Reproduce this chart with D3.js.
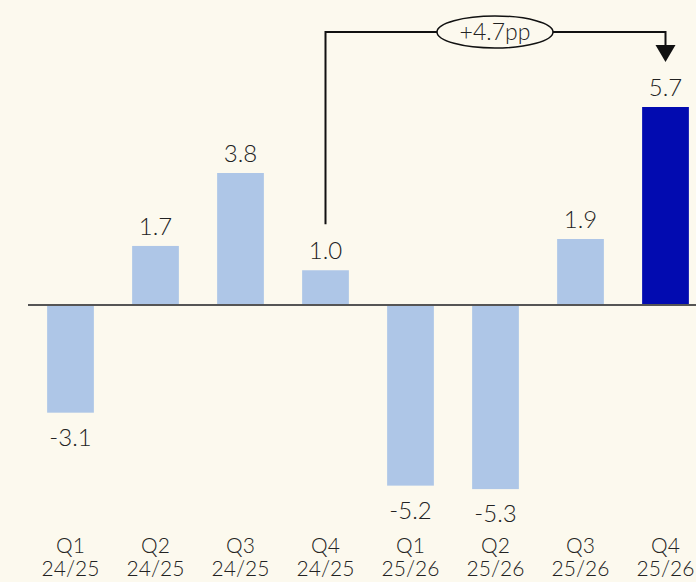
<!DOCTYPE html>
<html>
<head>
<meta charset="utf-8">
<script src="https://cdn.jsdelivr.net/npm/d3@7"></script>
<style>
  body { margin: 0; background: #fcf9ee; }
  svg { display: block; font-family: "Lato", "DejaVu Sans", sans-serif; font-weight: 300; }
</style>
</head>
<body>
<script>
// chart data
var quarters = ["Q1", "Q2", "Q3", "Q4", "Q1", "Q2", "Q3", "Q4"];
var years = ["24/25", "24/25", "24/25", "24/25", "25/26", "25/26", "25/26", "25/26"];
var values = [-3.1, 1.7, 3.8, 1.0, -5.2, -5.3, 1.9, 5.7];
var changeLabel = "+4.7pp";

var width = 696, height = 582;

var svg = d3.select("body").append("svg").attr("width", width).attr("height", height);
svg.append("rect").attr("width", width).attr("height", height).attr("fill", "#fcf9ee");

var idx = d3.range(values.length);
var x = d3.scaleBand().domain(idx).range([28, 708]).paddingInner(0.45).paddingOuter(0.225);
var y = d3.scaleLinear().domain([0, 5.7]).range([305, 107]);

// bars
svg.selectAll("rect.bar").data(values).enter()
    .append("rect")
    .attr("class", "bar")
    .attr("x", (d, i) => x(i))
    .attr("width", x.bandwidth())
    .attr("y", d => d >= 0 ? y(d) : y(0))
    .attr("height", d => Math.abs(y(d) - y(0)))
    .attr("fill", (d, i) => i == values.length - 1 ? "#020bb0" : "#aec6e7");

// zero line
svg.append("line")
    .attr("x1", 28).attr("x2", width)
    .attr("y1", y(0)).attr("y2", y(0))
    .attr("stroke", "#555").attr("stroke-width", 2);

// value labels
svg.selectAll("text.val").data(values).enter()
    .append("text")
    .attr("class", "val")
    .attr("x", (d, i) => x(i) + x.bandwidth() / 2)
    .attr("y", d => d >= 0 ? y(d) - 11 : y(d) + 33)
    .attr("text-anchor", "middle")
    .attr("font-size", 24)
    .attr("fill", "#222")
    .text(d => d.toFixed(1));

// category labels
var cats = svg.selectAll("text.cat").data(idx).enter()
    .append("text")
    .attr("class", "cat")
    .attr("text-anchor", "middle")
    .attr("font-size", 21)
    .attr("fill", "#222");
cats.append("tspan")
    .attr("x", i => x(i) + x.bandwidth() / 2).attr("y", 553)
    .text(i => quarters[i]);
cats.append("tspan")
    .attr("x", i => x(i) + x.bandwidth() / 2).attr("y", 576)
    .text(i => years[i]);

// change annotation, from Q4 24/25 to Q4 25/26
var from = 3, to = values.length - 1;
var x1 = x(from) + x.bandwidth() / 2, x2 = x(to) + x.bandwidth() / 2;
var topY = 32;
svg.append("path")
    .attr("d", "M" + x1 + "," + (y(values[from]) - 46) + "V" + topY + "H" + x2 + "V" + 48)
    .attr("fill", "none").attr("stroke", "#111").attr("stroke-width", 2);
svg.append("path")
    .attr("d", "M" + (x2 - 10) + "," + 45 + "L" + (x2 + 10) + "," + 45 + "L" + x2 + "," + 62 + "Z")
    .attr("fill", "#111");

var cx = 495;
svg.append("ellipse")
    .attr("cx", cx).attr("cy", topY).attr("rx", 58).attr("ry", 16)
    .attr("fill", "#fcf9ee").attr("stroke", "#111").attr("stroke-width", 1.5);
svg.append("text")
    .attr("x", cx).attr("y", topY + 8)
    .attr("text-anchor", "middle")
    .attr("font-size", 23)
    .attr("fill", "#222")
    .text(changeLabel);
</script>
</body>
</html>
